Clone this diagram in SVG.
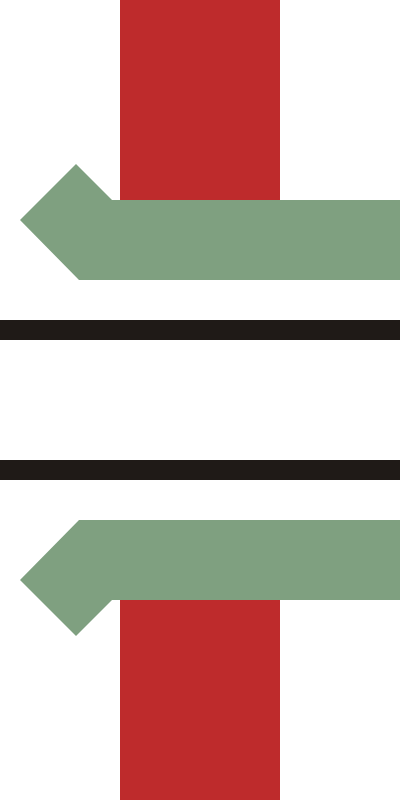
<svg xmlns="http://www.w3.org/2000/svg" width="400" height="800" viewBox="0 0 400 800">
<style>
.red{fill:#BE2B2C}
.green{fill:#7FA080}
.bar{fill:#1F1A17}
</style>
<rect width="400" height="800" fill="#FFFFFF"/>
<g id="top">
<rect class="red" x="120" y="0" width="160" height="200"/>
<polygon class="green" points="20,220 76,164 112,200 400,200 400,280 79,280"/>
</g>
<g id="bars">
<rect class="bar" x="0" y="320" width="400" height="20"/>
<rect class="bar" x="0" y="460" width="400" height="20"/>
</g>
<g id="bottom">
<rect class="red" x="120" y="600" width="160" height="200"/>
<polygon class="green" points="20,580 79,520 400,520 400,600 112,600 76,636"/>
</g>
</svg>
